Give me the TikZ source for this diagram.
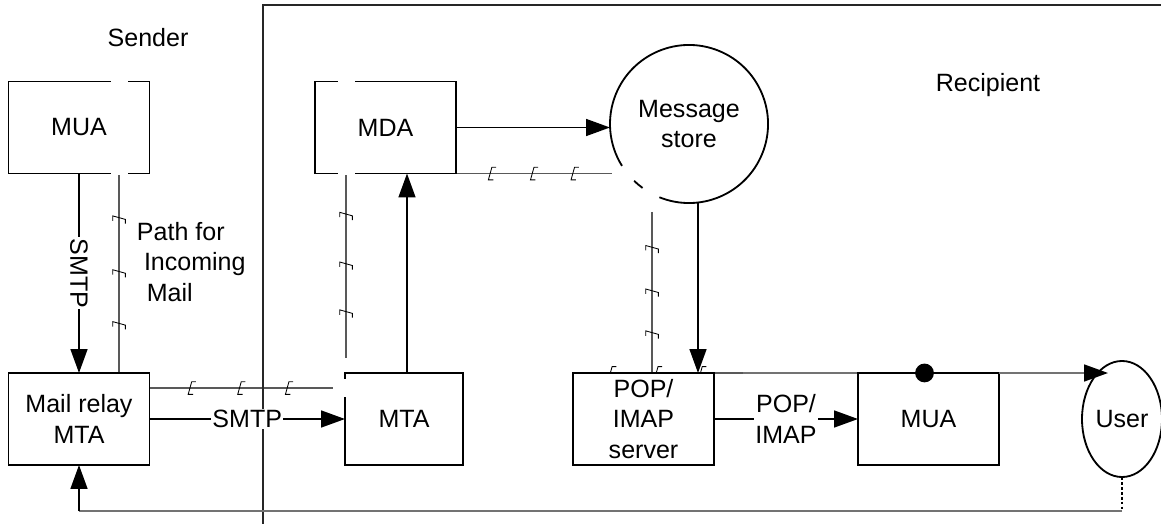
\documentclass[tikz,border=0pt]{standalone}
\usepackage{fontspec}
\setmainfont{Liberation Sans}
\usetikzlibrary{arrows.meta,calc,shapes.geometric,decorations.markings,backgrounds}

\newcommand{\hashmark}{\draw[black, line width=0.6pt] (3pt,4.5pt) -- (0pt,4.5pt) -- (-2.5pt,-4.5pt) -- (1pt,-4.5pt);}

\tikzset{
  box/.style={draw, fill=white, line width=1.3pt, inner sep=0pt, outer sep=0pt,
    minimum width=3.525cm, minimum height=2.3cm, align=center},
  arr/.style={line width=1.3pt, -{Triangle[length=17pt,width=12pt]}},
  lbl/.style={fill=white, inner sep=1pt, align=center},
  hashed/.style={draw=black!65, line width=0.8pt, postaction={decorate},
    decoration={markings,
      mark=at position 0.23 with {\hashmark},
      mark=at position 0.5 with {\hashmark},
      mark=at position 0.76 with {\hashmark}}},
  feed/.style={draw=black!55, line width=1.3pt},
  bordergap/.style={draw=white, line width=2.2pt},
  dot/.style={circle, fill, inner sep=0pt, minimum size=0.47cm},
}

\begin{document}
\begin{tikzpicture}[x=0.025cm, y=-0.025cm, font=\fontsize{17.8}{21.5}\selectfont]
  \useasboundingbox (0,0) rectangle (1161,524);

  % sender / recipient split
  \draw[line width=1.5pt, black!85] (263,524) -- (263,5) -- (1161,5);
  \node (sender) at (148,38) {Sender};
  \node (recipient) at (988,85) {Recipient};

  % agents
  \node[box] (mua1) at (79,127.5) {MUA};
  \node[box] (relay) at (79,419) {Mail relay\\MTA};
  \node[box] (mda) at (385.5,127.5) {MDA};
  \node[box, minimum width=2.95cm] (mta) at (404,419) {MTA};
  \node[circle, fill=white, inner sep=0pt, outer sep=0pt, minimum size=3.95cm, align=center] (store) at (689,124) {Message\\store};
  \node[box] (pop) at (643.5,419) {POP/\\IMAP\\server};
  \node[box] (mua2) at (928.5,419) {MUA};
  \node[ellipse, draw, fill=white, line width=1.3pt, inner sep=0pt, outer sep=0pt,
    minimum width=2cm, minimum height=2.9cm] (user) at (1122,419) {User};

  % store outline, open where the incoming path leaves it
  \draw[line width=1.3pt] (store.248) arc[start angle=248, end angle=572, radius=1.975cm];
  \draw[line width=1.3pt] (store.226) arc[start angle=226, end angle=234, radius=1.975cm];

  \coordinate (mdaend) at ($(mda.south)+(-39.5,184)$);
  \coordinate (msin) at ($(store)+(-77,49)$);
  \coordinate (msout) at ($(store)+(-37,88)$);
  \coordinate (feedstart) at ($(pop.north east)+(29,0)$);
  \coordinate (userin) at (1108,373);
  \coordinate (mtatop) at ($(mta.north)+(3,0)$);
  \coordinate (ret) at ($(user.south)+(0,34)$);

  % path for incoming mail
  \begin{scope}[on background layer]
    \draw[hashed] ($(mua1.south)+(40,0)$) -- ($(relay.north)+(40,0)$);
    \draw[hashed] ($(relay.east)+(0,-31)$) -- ($(mta.west)+(-12,-31)$);
    \draw[hashed] ($(mda.south)+(-39.5,0)$) -- (mdaend);
    \draw[hashed] (mda.south east) -- (mda.south east -| msin);
    \draw[hashed] (msout) -- (msout |- pop.north);
    \draw[hashed] (pop.north west) -- (feedstart);
    \draw[feed] (feedstart) -- (mua2.north east);
  \end{scope}
  \draw[feed, -{Triangle[length=17pt,width=12pt,black]}] (mua2.north east) -- (userin);
  \node[dot] (junction) at ($(mua2.north)+(-4,0)$) {};

  % mail flow
  \draw[arr] (mua1.south) -- node[lbl, rotate=-90] {SMTP} (relay.north);
  \draw[arr] (relay.east) -- node[lbl] {SMTP} (mta.west);
  \draw[arr] (mtatop) -- (mtatop |- mda.south);
  \draw[arr] (mda.east) -- (mda.east -| store.west);
  \draw[arr] ($(store.south)+(9,0)$) -- ($(pop.north)+(54.5,0)$);
  \draw[arr] (pop.east) -- node[lbl] {POP/\\IMAP} (mua2.west);

  % user back to relay
  \draw[line width=1.3pt, dash pattern=on 2pt off 1.5pt] (user.south) -- (ret);
  \draw[feed] (ret) -- (ret -| relay.south);
  \draw[arr] (ret -| relay.south) -- (relay.south);

  % breaks in the box borders
  \draw[bordergap] ($(mua1.north)+(32,0)$) -- ($(mua1.north)+(49,0)$);
  \draw[bordergap] ($(mua1.south)+(32,0)$) -- ($(mua1.south)+(49,0)$);
  \draw[bordergap] ($(mda.north)+(-47.5,0)$) -- ($(mda.north)+(-30.5,0)$);
  \draw[bordergap] ($(mda.south)+(-47.5,0)$) -- ($(mda.south)+(-30.5,0)$);
  \draw[bordergap] ($(mta.west)+(0,-40)$) -- ($(mta.west)+(0,-22)$);

  \node[align=left, anchor=west] (pathlbl) at (132,262) {Path for\\\hspace{5pt}Incoming\\\hspace{7pt}Mail};
\end{tikzpicture}
\end{document}
